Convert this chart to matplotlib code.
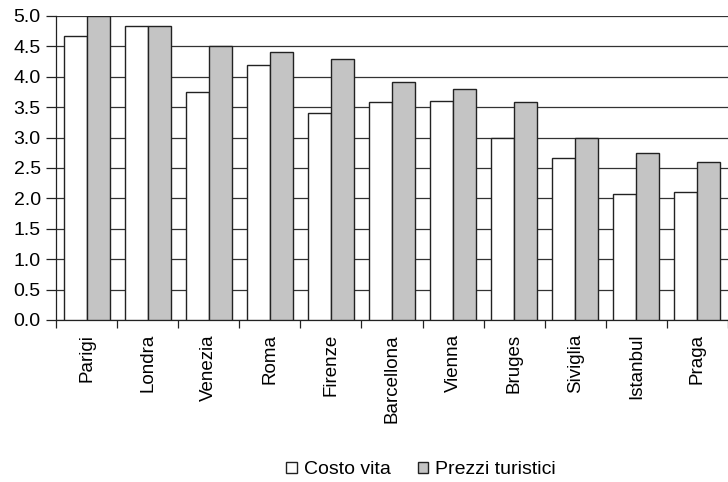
import numpy as np
import matplotlib.pyplot as plt
from matplotlib.patches import Patch

plt.rcParams['font.family'] = ['Liberation Sans', 'DejaVu Sans']

citta = ['Parigi', 'Londra', 'Venezia', 'Roma', 'Firenze', 'Barcellona',
         'Vienna', 'Bruges', 'Siviglia', 'Istanbul', 'Praga']
costo_vita = [4.67, 4.83, 3.75, 4.2, 3.4, 3.58, 3.6, 3.0, 2.67, 2.08, 2.1]
prezzi_turistici = [5.0, 4.83, 4.5, 4.4, 4.3, 3.92, 3.8, 3.58, 3.0, 2.75, 2.6]

fig = plt.figure(figsize=(7.28, 4.82), dpi=100)
ax = fig.add_axes([56 / 728, 1 - 320 / 482, 672 / 728, 304 / 482])

x = np.arange(len(citta))
w = 0.377
ax.bar(x - w / 2, costo_vita, w, color='white', edgecolor='#222222',
       linewidth=1.0, zorder=3, label='Costo vita')
ax.bar(x + w / 2, prezzi_turistici, w, color='#c4c4c4', edgecolor='#222222',
       linewidth=1.0, zorder=3, label='Prezzi turistici')

ax.set_xlim(-0.5, len(citta) - 0.5)
ax.set_ylim(0, 5.0)
ax.set_yticks(np.arange(0, 5.01, 0.5))
ax.set_yticklabels([f'{v:.1f}' for v in np.arange(0, 5.01, 0.5)])
ax.yaxis.grid(True, color='#333333', linewidth=0.9, zorder=0)

ax.set_xticks(x)
ax.set_xticklabels(citta, rotation=90, fontsize=13.5)
ax.tick_params(axis='x', length=0, pad=10)
ax.set_xticks(np.arange(-0.5, len(citta) - 0.4, 1), minor=True)
ax.tick_params(axis='x', which='minor', length=6, width=0.9, color='#222222')
ax.tick_params(axis='y', labelsize=14, length=7, width=0.9, color='#222222', pad=4)

for s in ['top', 'right']:
    ax.spines[s].set_visible(False)
for s in ['left', 'bottom']:
    ax.spines[s].set_color('#222222')
    ax.spines[s].set_linewidth(0.9)

handles = [Patch(facecolor='white', edgecolor='#222222', label='Costo vita'),
           Patch(facecolor='#c4c4c4', edgecolor='#222222', label='Prezzi turistici')]
fig.legend(handles=handles, loc='center', bbox_to_anchor=(421 / 728, 1 - 470 / 482),
           ncol=2, frameon=False, fontsize=14, handlelength=0.55, handleheight=0.55,
           handletextpad=0.35, columnspacing=1.4)

fig.savefig('out.png', dpi=100)
